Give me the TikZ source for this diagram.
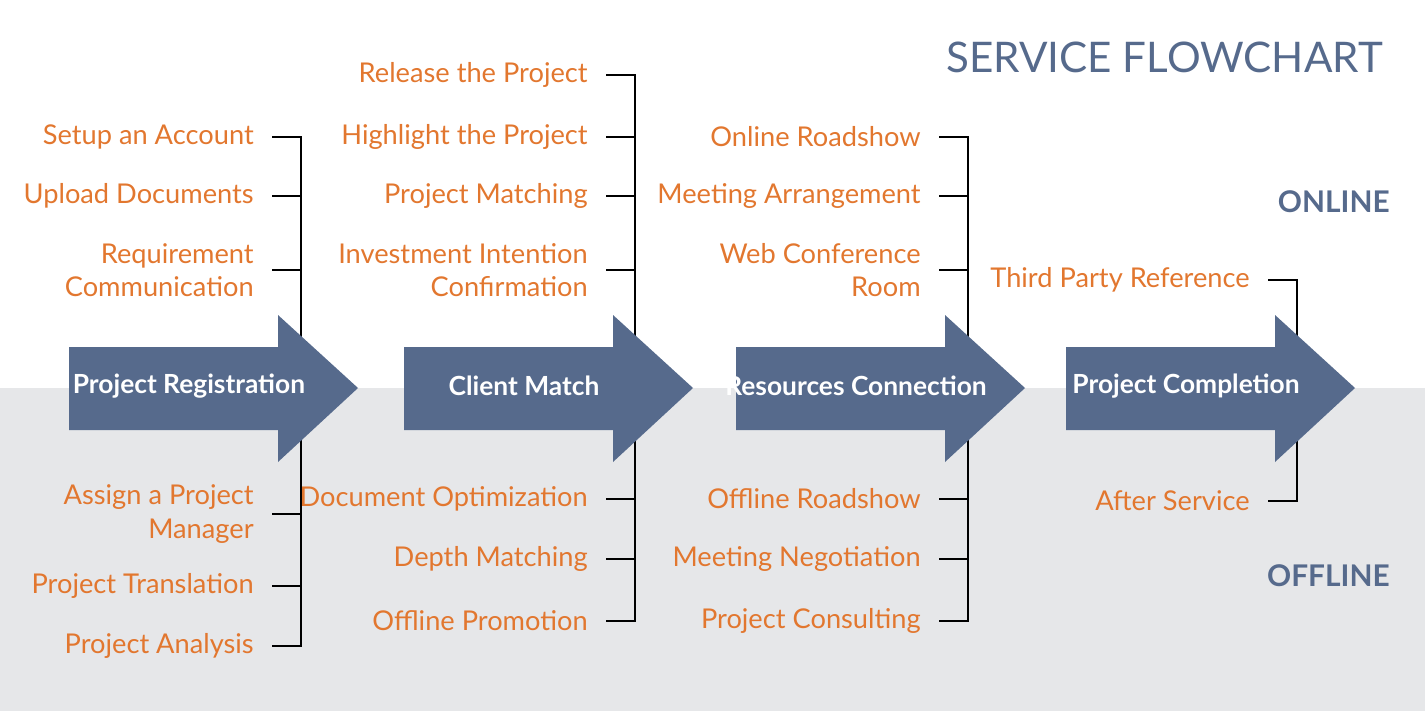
\documentclass[tikz,border=0pt]{standalone}
\usepackage{fontspec}
\setmainfont{Lato}
\definecolor{stepblue}{HTML}{566A8C}
\definecolor{taskorange}{HTML}{E2772F}
\definecolor{offgray}{HTML}{E6E7E9}
\tikzset{
    task/.style={anchor=east,text=taskorange,font=\fontsize{15.5}{19}\selectfont,align=right,inner sep=0pt},
    tick/.style={line width=1.6pt,black},
    side/.style={text=stepblue,font=\fontsize{17}{20}\selectfont\bfseries,anchor=east,inner sep=0pt},
    steplabel/.style={text=white,font=\fontsize{15}{18}\selectfont\bfseries,inner sep=0pt}
}
\newcommand{\steparrow}[3]{% left x, label, name
    \fill[stepblue] (#1,347) -- (#1+209,347) -- (#1+209,315) -- (#1+289,388)
        -- (#1+209,462) -- (#1+209,430) -- (#1,430) -- cycle;
    \node[steplabel] (#3) at (#1+120,386) {#2};
}
\begin{document}
\begin{tikzpicture}[x=0.02cm,y=-0.02cm]
    \useasboundingbox (0,0) rectangle (1425,713);
    \fill[offgray] (0,388) rectangle (1425,711);
    \node[anchor=east,text=stepblue,font=\fontsize{24}{28}\selectfont,inner sep=0pt] (title) at (1383,57) {SERVICE FLOWCHART};
    \node[side] (online) at (1390,202) {ONLINE};
    \node[side] (offline) at (1390,576) {OFFLINE};
    % spines
    \draw[tick] (272,137) -| (301,646) -- (272,646);
    \draw[tick] (606,75) -| (635,621) -- (606,621);
    \draw[tick] (940,137) -| (968,621) -- (940,621);
    \draw[tick] (1268,280) -| (1297,501) -- (1268,501);
    % ticks and tasks
    \foreach \x/\y/\t [count=\i] in {
        301/137/Setup an Account, 301/196/Upload Documents, 301/270/{Requirement\\Communication},
        301/514/{Assign a Project\\Manager}, 301/586/Project Translation, 301/646/Project Analysis,
        635/75/Release the Project, 635/137/Highlight the Project, 635/196/Project Matching,
        635/270/{Investment Intention\\Confirmation}, 635/499/Document Optimization,
        635/559/Depth Matching, 635/621/Offline Promotion,
        968/137/Online Roadshow, 968/196/Meeting Arrangement, 968/270/{Web Conference\\Room},
        968/499/Offline Roadshow, 968/559/Meeting Negotiation, 968/621/Project Consulting,
        1297/280/Third Party Reference, 1297/501/After Service} {
        \coordinate (s\i) at (\x,\y);
        \coordinate (e\i) at (\x-29,\y);
        \draw[tick] (e\i) -- (s\i);
        \node[task] (t\i) at (\x-47,\y) {\t};
    }
    % steps
    \steparrow{69}{Project Registration}{reg}
    \steparrow{404}{Client Match}{match}
    \steparrow{736}{Resources Connection}{conn}
    \steparrow{1066}{Project Completion}{done}
\end{tikzpicture}
\end{document}
